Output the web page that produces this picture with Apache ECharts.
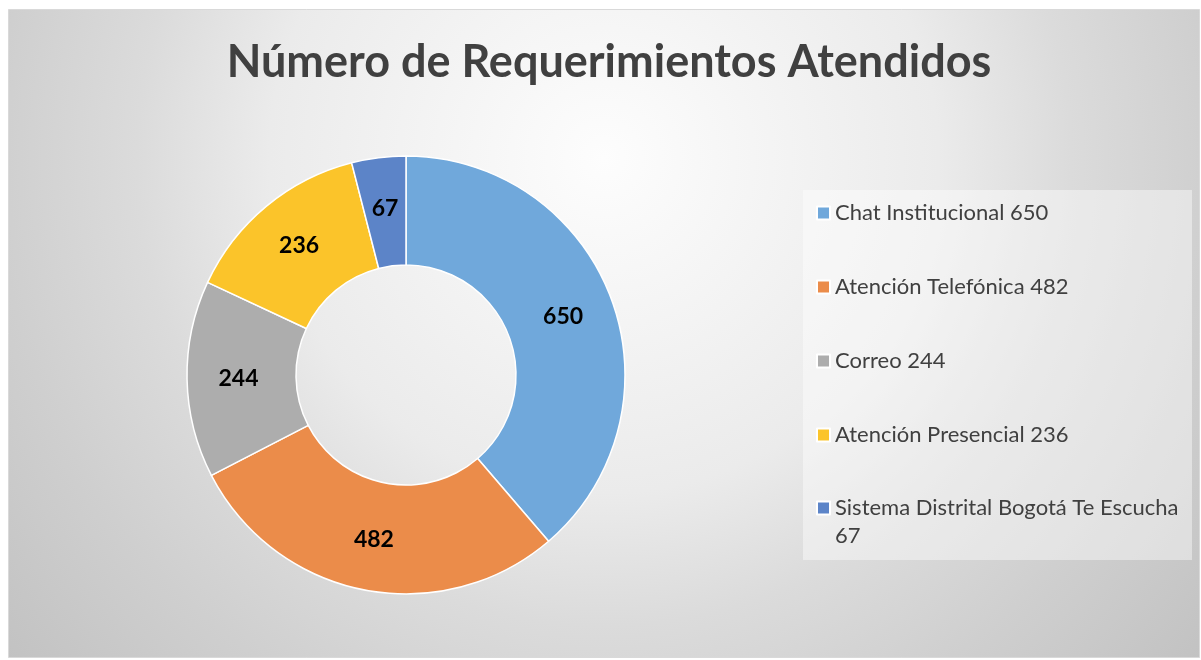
<!DOCTYPE html>
<html>
<head>
<meta charset="utf-8">
<script src="https://cdn.jsdelivr.net/npm/echarts@6/dist/echarts.min.js"></script>
<style>
html,body{margin:0;padding:0;background:#ffffff;}
#chart{width:1201px;height:660px;}
</style>
</head>
<body>
<div id="chart"></div>
<script>
// ---- data ----
var titleText = 'Número de Requerimientos Atendidos';
var categories = ['Chat Institucional', 'Atención Telefónica', 'Correo', 'Atención Presencial', 'Sistema Distrital Bogotá Te Escucha'];
var values = [650, 482, 244, 236, 67];
var colors = ['#70A8DB', '#EB8C4A', '#ADADAD', '#FBC42A', '#5C84C8'];

var FONT = 'Lato, "Open Sans", sans-serif';
var chart = echarts.init(document.getElementById('chart'), null, {renderer: 'canvas'});

function legendLabel(name) {
  var i = categories.indexOf(name);
  return name + ' ' + values[i];
}
// leading blank line so the first text line sits level with the icon; value wraps to next line
function legendLabelWrapped(name) {
  var i = categories.indexOf(name);
  return '\n' + name + '\n' + values[i];
}

var seriesData = categories.map(function (c, i) {
  return {name: c, value: values[i], itemStyle: {color: colors[i]}};
});

var option = {
  animation: false,
  graphic: [
    {
      type: 'rect', z: -10, silent: true,
      shape: {x: 8.5, y: 9.5, width: 1191, height: 648},
      style: {
        fill: {
          type: 'radial', x: 0.5, y: 0.23, r: 1.2,
          colorStops: [
            {offset: 0, color: '#fdfdfd'},
            {offset: 0.43, color: '#ebebeb'},
            {offset: 0.6, color: '#dbdbdb'},
            {offset: 0.78, color: '#cfcfcf'},
            {offset: 1, color: '#c2c2c2'}
          ]
        },
        stroke: '#d9d9d9', lineWidth: 1
      }
    },
    {
      type: 'rect', z: -9, silent: true,
      shape: {x: 803, y: 190, width: 389, height: 370},
      style: {fill: 'rgba(255,255,255,0.42)'}
    }
  ],
  title: {
    text: titleText,
    left: 609,
    textAlign: 'center',
    top: 40,
    padding: 0,
    textStyle: {
      fontFamily: FONT,
      fontSize: 45,
      fontWeight: 'bold',
      color: '#404040'
    }
  },
  legend: [
    {
      data: categories.slice(0, 4),
      orient: 'vertical',
      left: 816,
      top: 200,
      padding: 0,
      itemWidth: 13,
      itemHeight: 13,
      itemGap: 48,
      icon: 'rect',
      formatter: legendLabel,
      textStyle: {
        color: '#404040',
        fontFamily: FONT,
        fontSize: 22,
        lineHeight: 26
      },
      selectedMode: false
    },
    {
      data: categories.slice(4),
      orient: 'vertical',
      left: 816,
      top: 466,
      padding: 0,
      itemWidth: 13,
      itemHeight: 13,
      icon: 'rect',
      formatter: legendLabelWrapped,
      textStyle: {
        color: '#404040',
        fontFamily: FONT,
        fontSize: 22,
        lineHeight: 28
      },
      selectedMode: false
    }
  ],
  series: [
    {
      type: 'pie',
      center: [406, 375],
      radius: [110, 219],
      startAngle: 90,
      clockwise: true,
      avoidLabelOverlap: false,
      itemStyle: {borderColor: '#ffffff', borderWidth: 1.5},
      label: {
        show: true,
        position: 'inside',
        formatter: '{c}',
        fontFamily: FONT,
        fontSize: 23,
        fontWeight: 'bold',
        color: '#000000'
      },
      labelLine: {show: false},
      emphasis: {disabled: true},
      data: seriesData
    }
  ]
};
chart.setOption(option);
</script>
</body>
</html>
